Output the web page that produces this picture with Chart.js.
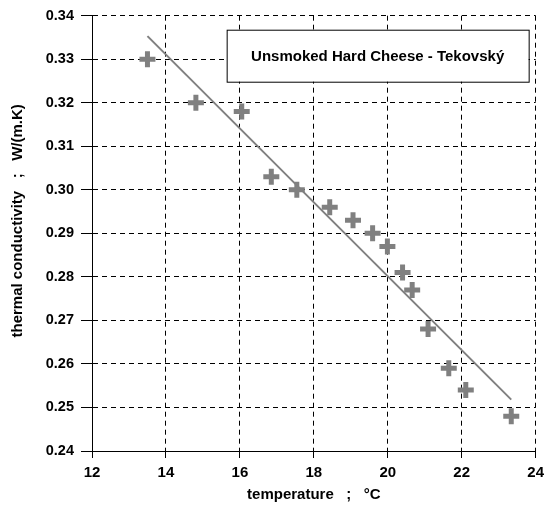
<!DOCTYPE html>
<html>
<head>
<meta charset="utf-8">
<script src="https://cdn.jsdelivr.net/npm/chart.js@4/dist/chart.umd.min.js"></script>
<style>
  html, body { margin: 0; padding: 0; background: #fff; }
  #wrap { width: 550px; height: 506px; }
</style>
</head>
<body>
<div id="wrap"><canvas id="cheeseChart"></canvas></div>
<script>
const temperature = [13.5, 14.81, 16.05, 16.85, 17.54, 18.43, 19.06, 19.59, 19.99, 20.40, 20.66, 21.09, 21.65, 22.11, 23.34];
const conductivity = [0.330, 0.320, 0.318, 0.303, 0.300, 0.296, 0.293, 0.290, 0.287, 0.281, 0.277, 0.268, 0.259, 0.254, 0.248];
const fitTemperature = [13.5, 23.34];
const fitConductivity = [0.3353, 0.2518];
const xTicks = [12, 14, 16, 18, 20, 22, 24];
const yTicks = [0.24, 0.25, 0.26, 0.27, 0.28, 0.29, 0.30, 0.31, 0.32, 0.33, 0.34];
const boxLabel = 'Unsmoked Hard Cheese - Tekovský';

const FONT = 'Arial, "Liberation Sans", Helvetica, sans-serif';

// titled box in the top right corner
const labelBox = {
    id: 'labelBox',
    afterDraw(chart) {
        const ctx = chart.ctx;
        const area = chart.chartArea;
        const w = 302, h = 52;
        const x = area.right - 309;
        const y = area.top + 14;
        ctx.save();
        ctx.fillStyle = '#fff';
        ctx.fillRect(x, y, w, h);
        ctx.strokeStyle = '#000';
        ctx.lineWidth = 1;
        ctx.strokeRect(x + 0.5, y + 0.5, w, h);
        ctx.fillStyle = '#000';
        ctx.font = 'bold 15px ' + FONT;
        ctx.textAlign = 'center';
        ctx.textBaseline = 'middle';
        ctx.fillText(boxLabel, x + w / 2, y + h / 2 + 1);
        ctx.restore();
    }
};

new Chart(document.getElementById('cheeseChart'), {
    type: 'scatter',
    data: {
        datasets: [
            {
                label: 'measured',
                data: temperature.map((t, i) => ({x: t, y: conductivity[i]})),
                pointStyle: 'cross',
                pointRadius: 8,
                pointHoverRadius: 8,
                borderWidth: 5,
                borderColor: '#808080',
                backgroundColor: '#808080',
                showLine: false
            },
            {
                label: 'fit',
                data: fitTemperature.map((t, i) => ({x: t, y: fitConductivity[i]})),
                showLine: true,
                borderColor: '#808080',
                borderWidth: 2,
                pointRadius: 0,
                fill: false
            }
        ]
    },
    options: {
        responsive: true,
        maintainAspectRatio: false,
        animation: false,
        events: [],
        layout: { padding: { left: 0, top: 15, right: 10, bottom: 0 } },
        plugins: {
            legend: { display: false },
            tooltip: { enabled: false }
        },
        scales: {
            x: {
                type: 'linear',
                min: 12,
                max: 24,
                afterBuildTicks: scale => { scale.ticks = xTicks.map(v => ({value: v})); },
                afterFit: scale => { scale.height = 55; },
                ticks: {
                    color: '#000',
                    padding: 6,
                    maxRotation: 0,
                    font: { family: FONT, size: 15, weight: 'bold' }
                },
                grid: { color: '#000', lineWidth: 1, tickLength: 7, tickColor: '#000' },
                border: { display: true, color: '#000', width: 1, dash: [5, 4] },
                title: {
                    display: true,
                    text: 'temperature   ;   °C',
                    color: '#000',
                    padding: { top: 0, bottom: 2 },
                    font: { family: FONT, size: 15, weight: 'bold' }
                }
            },
            y: {
                type: 'linear',
                min: 0.24,
                max: 0.34,
                afterBuildTicks: scale => { scale.ticks = yTicks.map(v => ({value: v})); },
                afterFit: scale => { scale.width = 92; },
                ticks: {
                    color: '#000',
                    padding: 7,
                    callback: v => v.toFixed(2),
                    font: { family: FONT, size: 14.5, weight: 'bold' }
                },
                grid: { color: '#000', lineWidth: 1, tickLength: 11, tickColor: '#000' },
                border: { display: true, color: '#000', width: 1, dash: [5, 4] },
                title: {
                    display: true,
                    // leading spaces nudge the rotated title up a little, as in the original
                    text: '      thermal conductivity   ;   W/(m.K)',
                    color: '#000',
                    padding: { top: 9, bottom: 0 },
                    font: { family: FONT, size: 15, weight: 'bold' }
                }
            }
        }
    },
    plugins: [labelBox]
});
</script>
</body>
</html>
